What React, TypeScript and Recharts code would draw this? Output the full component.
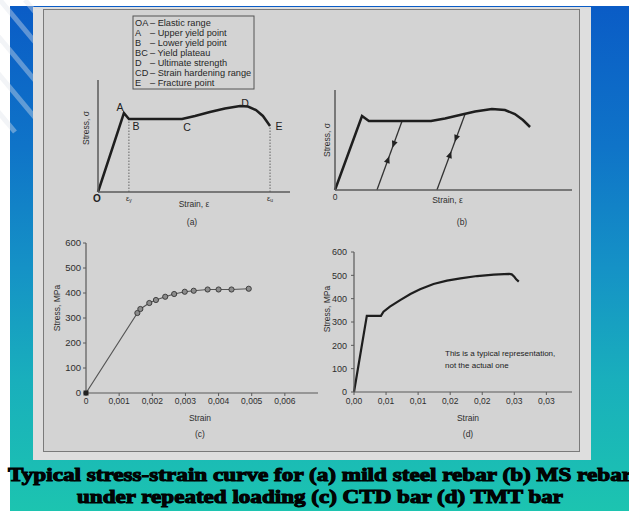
import React from 'react';
import { ComposedChart, Line, Scatter, XAxis, YAxis, ReferenceLine } from 'recharts';

// ---------- Panel (a): mild steel rebar (schematic units) ----------
const aStrain = [0, 13.5, 16.1, 43.75, 50.5, 58.3, 66.1, 74.0, 78.1, 82.3, 85.9, 89.6];
const aStress = [0, 70.5, 65.2, 65.2, 67.9, 71.4, 74.6, 76.8, 76.3, 73.2, 67.9, 58.9];
const aPointNames = ['A', 'B', 'C', 'D', 'E'];
const aPointStrain = [13.5, 16.1, 43.75, 74.0, 89.6];
const aPointStress = [70.5, 65.2, 65.2, 76.8, 58.9];
const aTickValues = [0, 16.1, 89.6];
const aTickMain = ['O', 'ε', 'ε'];
const aTickSub = ['', 'y', 'u'];
const legendCodes = ['OA', 'A', 'B', 'BC', 'D', 'CD', 'E'];
const legendTexts = ['Elastic range', 'Upper yield point', 'Lower yield point', 'Yield plateau', 'Ultimate strength', 'Strain hardening range', 'Fracture point'];

// ---------- Panel (b): MS rebar under repeated loading ----------
const bStrain = [0, 11.4, 14.3, 40.5, 46.4, 52.7, 59.1, 66.2, 71.7, 75.9, 79.3, 82.3];
const bStress = [0, 74, 69, 69, 71.5, 75, 78.5, 81, 80, 76, 70, 63];
const bUnload1Strain = [17.7, 28.3];
const bUnload1Stress = [0, 69];
const bUnload2Strain = [43.0, 54.9];
const bUnload2Stress = [0, 76];
const bArrowStrain = [24.8, 22.3, 51.1, 48.5];
const bArrowStress = [46, 30, 52, 35];
const bArrowDir = ['down', 'up', 'down', 'up'];

// ---------- Panel (c): CTD bar ----------
const cStrain = [0, 0.00155, 0.00164, 0.00191, 0.00211, 0.00239, 0.00266, 0.00298, 0.00325, 0.00367, 0.004, 0.00439, 0.00491];
const cStress = [0, 320, 336, 360, 372, 385, 396, 405, 409, 414, 414, 414, 417];
const cStrainTicks = [0, 0.001, 0.002, 0.003, 0.004, 0.005, 0.006];
const cStrainTickLabels = ['0', '0,001', '0,002', '0,003', '0,004', '0,005', '0,006'];
const stressTicks = [0, 100, 200, 300, 400, 500, 600];

// ---------- Panel (d): TMT bar ----------
const dStrain = [0, 0.002, 0.0042, 0.0046, 0.0056, 0.0072, 0.0088, 0.0103, 0.0124, 0.0145, 0.0166, 0.0192, 0.0218, 0.0242, 0.0246, 0.025, 0.0253, 0.0257];
const dStress = [0, 326, 326, 344, 366, 394, 420, 440, 463, 477, 487, 497, 503, 506, 504, 494, 483, 473];
const dStrainTicks = [0, 0.005, 0.01, 0.015, 0.02, 0.025, 0.03];
const dStrainTickLabels = ['0,00', '0,01', '0,01', '0,02', '0,02', '0,03', '0,03'];
const dNote = ['This is a typical representation,', 'not the actual one'];

const captionLines = [
  'Typical stress-strain curve for (a) mild steel rebar (b) MS rebar',
  'under repeated loading (c) CTD bar (d) TMT bar',
];

// ---------- derived tables ----------
const zip = (xs: number[], ys: number[]) => xs.map((x, i) => ({ x, y: ys[i] }));
const aData = zip(aStrain, aStress);
const aPoints = aPointNames.map((name, i) => ({ x: aPointStrain[i], y: aPointStress[i], name }));
const bData = zip(bStrain, bStress);
const bU1 = zip(bUnload1Strain, bUnload1Stress);
const bU2 = zip(bUnload2Strain, bUnload2Stress);
const bArrows = bArrowDir.map((dir, i) => ({ x: bArrowStrain[i], y: bArrowStress[i], dir }));
const cData = zip(cStrain, cStress);
const dData = zip(dStrain, dStress);

const FONT = '"Liberation Sans", Arial, sans-serif';
const TXT = '#2e2e2e';
const AX = '#5a5a5a';

const labelOffset: Record<string, [number, number]> = {
  A: [-4, -6], B: [7, 7], C: [5, 8], D: [5, -3], E: [9, 0],
};

const xTitle = (text: string, dx: number, dy: number, size = 8.5) => (props: any) => {
  const vb = props.viewBox || { x: 0, y: 0, width: 0, height: 0 };
  return (
    <text x={vb.x + vb.width / 2 + dx} y={vb.y + dy} textAnchor="middle" fontSize={size} fill={TXT} fontFamily={FONT}>
      {text}
    </text>
  );
};
const yTitle = (text: string, cx: number, dy: number, size = 8.5) => (props: any) => {
  const vb = props.viewBox || { x: 0, y: 0, width: 0, height: 0 };
  const x = vb.x + cx;
  const y = vb.y + vb.height / 2 + dy;
  return (
    <text x={x} y={y} transform={`rotate(-90 ${x} ${y})`} textAnchor="middle" dominantBaseline="central" fontSize={size} fill={TXT} fontFamily={FONT}>
      {text}
    </text>
  );
};

const ATick = (props: any) => {
  const { x, y, payload } = props;
  const i = aTickValues.indexOf(payload.value);
  if (i < 0) return null;
  if (i === 0)
    return (
      <text x={x - 1} y={y + 6} textAnchor="middle" dominantBaseline="central" fontSize={10} fontWeight="bold" fill="#222" fontFamily={FONT}>
        {aTickMain[i]}
      </text>
    );
  return (
    <text x={x} y={y + 6} textAnchor="middle" dominantBaseline="central" fontSize={7.5} fill={TXT} fontFamily={FONT}>
      <tspan>{aTickMain[i]}</tspan>
      <tspan fontSize={5} dy={2}>{aTickSub[i]}</tspan>
    </text>
  );
};

const PointLabel = (props: any) => {
  const { cx, cy, payload } = props;
  const o = labelOffset[payload.name] || [0, 0];
  return (
    <text x={cx + o[0]} y={cy + o[1]} textAnchor="middle" dominantBaseline="central" fontSize={10.5} fill="#222" fontFamily={FONT}>
      {payload.name}
    </text>
  );
};

const ArrowShape = (props: any) => {
  const { cx, cy, payload } = props;
  const pts = payload.dir === 'down' ? '-3,-3 3,-3 0,4' : '-3,3 3,3 0,-4';
  return <polygon points={pts} transform={`translate(${cx},${cy}) rotate(20)`} fill="#222" />;
};

const CDot = (props: any) => {
  const { cx, cy, index } = props;
  if (cx == null || cy == null) return null;
  if (index === 0) return <rect key={`d${index}`} x={cx - 2.5} y={cy - 2.5} width={5} height={5} fill="#222" />;
  return <circle key={`d${index}`} cx={cx} cy={cy} r={2.6} fill="#8c8c8c" stroke="#333" strokeWidth={0.9} />;
};

function ChartA() {
  return (
    <ComposedChart width={260} height={170} margin={{ top: 10, right: 20, bottom: 18, left: 18 }}>
      <XAxis type="number" dataKey="x" domain={[0, 100]} ticks={aTickValues} interval={0} tickLine={false} tickSize={0} tickMargin={0}
        tick={<ATick />} height={30} axisLine={{ stroke: AX, strokeWidth: 1.5 }} label={xTitle('Strain, ε', 0, 15)} />
      <YAxis type="number" dataKey="y" domain={[0, 100]} tick={false} tickLine={false} width={30}
        axisLine={{ stroke: AX, strokeWidth: 1.5 }} label={yTitle('Stress, σ', 18, -8)} />
      <ReferenceLine segment={[{ x: aPointStrain[1], y: 0 }, { x: aPointStrain[1], y: aPointStress[1] }]} stroke="#666" strokeDasharray="1.5 1.5" />
      <ReferenceLine segment={[{ x: aPointStrain[4], y: 0 }, { x: aPointStrain[4], y: aPointStress[4] }]} stroke="#666" strokeDasharray="1.5 1.5" />
      <Line data={aData} dataKey="y" type="linear" stroke="#1e1e1e" strokeWidth={2.5} dot={false} isAnimationActive={false} />
      <Scatter data={aPoints} dataKey="y" shape={<PointLabel />} isAnimationActive={false} />
    </ComposedChart>
  );
}

function ChartB() {
  return (
    <ComposedChart width={300} height={150} margin={{ top: 10, right: 18, bottom: 12, left: 15 }}>
      <XAxis type="number" dataKey="x" domain={[0, 100]} ticks={[0]} interval={0} tickLine={false} tickSize={0} tickMargin={4}
        tick={{ fontSize: 8.5, fill: TXT, fontFamily: FONT }} height={28} axisLine={{ stroke: AX, strokeWidth: 1.5 }}
        label={xTitle('Strain, ε', -6, 13)} />
      <YAxis type="number" dataKey="y" domain={[0, 100]} tick={false} tickLine={false} width={30}
        axisLine={{ stroke: AX, strokeWidth: 1.5 }} label={yTitle('Stress, σ', 22, 0)} />
      <Line data={bU1} dataKey="y" type="linear" stroke="#333" strokeWidth={1.3} dot={false} isAnimationActive={false} />
      <Line data={bU2} dataKey="y" type="linear" stroke="#333" strokeWidth={1.3} dot={false} isAnimationActive={false} />
      <Line data={bData} dataKey="y" type="linear" stroke="#1e1e1e" strokeWidth={2.5} dot={false} isAnimationActive={false} />
      <Scatter data={bArrows} dataKey="y" shape={<ArrowShape />} isAnimationActive={false} />
    </ComposedChart>
  );
}

function ChartC() {
  return (
    <ComposedChart width={290} height={190} margin={{ top: 8, right: 12, bottom: 2, left: 6 }}>
      <XAxis type="number" dataKey="x" domain={[0, 0.007]} ticks={cStrainTicks} interval={0} tickSize={3}
        tickFormatter={(v: number, i: number) => cStrainTickLabels[i] ?? String(v)}
        tick={{ fontSize: 8.5, fill: TXT, fontFamily: FONT }} tickLine={{ stroke: AX }} height={30}
        axisLine={{ stroke: AX, strokeWidth: 1.2 }} label={xTitle('Strain', -2, 28)} />
      <YAxis type="number" dataKey="y" domain={[0, 600]} ticks={stressTicks} interval={0} tickSize={3} width={40}
        tick={{ fontSize: 9.5, fill: TXT, fontFamily: FONT }} tickLine={{ stroke: AX }}
        axisLine={{ stroke: AX, strokeWidth: 1.2 }} label={yTitle('Stress, MPa', 11, -10)} />
      <Line data={cData} dataKey="y" type="linear" stroke="#555" strokeWidth={1.2} dot={<CDot />} isAnimationActive={false} />
    </ComposedChart>
  );
}

function ChartD() {
  return (
    <ComposedChart width={275} height={185} margin={{ top: 12, right: 13, bottom: 3, left: 4 }}>
      <XAxis type="number" dataKey="x" domain={[0, 0.034]} ticks={dStrainTicks} interval={0} tickSize={3} tickMargin={3}
        tickFormatter={(v: number, i: number) => dStrainTickLabels[i] ?? String(v)}
        tick={{ fontSize: 8.5, fill: TXT, fontFamily: FONT }} tickLine={{ stroke: AX }} height={30}
        axisLine={{ stroke: AX, strokeWidth: 1.2 }} label={xTitle('Strain', 5, 29)} />
      <YAxis type="number" dataKey="y" domain={[0, 600]} ticks={stressTicks} interval={0} tickSize={3} tickMargin={4} width={40}
        tick={{ fontSize: 9, fill: TXT, fontFamily: FONT }} tickLine={{ stroke: AX }}
        axisLine={{ stroke: AX, strokeWidth: 1.2 }} label={yTitle('Stress, MPa', 13, -13)} />
      <Line data={dData} dataKey="y" type="linear" stroke="#1e1e1e" strokeWidth={2.2} dot={false} isAnimationActive={false} />
    </ComposedChart>
  );
}

const stripeStarts = [0, -32, -63, -95, 25];

export default function App() {
  return (
    <div style={{ position: 'absolute', left: 0, top: 0, width: 629, height: 511, overflow: 'hidden', background: '#ffffff', fontFamily: FONT }}>
      <div style={{ position: 'absolute', left: 10, top: 6, width: 619, height: 505,
        background: 'linear-gradient(to bottom, #0a5cc6 0%, #0f74c8 28%, #1592c6 52%, #19afbc 74%, #1cc4b0 100%)' }} />
      <svg width={629} height={511} style={{ position: 'absolute', left: 0, top: 0 }}>
        {stripeStarts.map((x0, i) => (
          <line key={i} x1={x0} y1={0} x2={x0 + 110} y2={132} stroke="#dfe4ec" strokeOpacity={0.4} strokeWidth={5} />
        ))}
      </svg>
      <div style={{ position: 'absolute', left: 33, top: 7, width: 558, height: 453, background: '#dedede' }} />
      <div style={{ position: 'absolute', left: 43, top: 9, width: 537, height: 443, background: '#d3d3d3', border: '1.5px solid #7a7a7a', boxSizing: 'border-box' }} />
      <div style={{ position: 'absolute', left: 50, top: 70 }}><ChartA /></div>
      <div style={{ position: 'absolute', left: 290, top: 80 }}><ChartB /></div>
      <div style={{ position: 'absolute', left: 40, top: 235 }}><ChartC /></div>
      <div style={{ position: 'absolute', left: 310, top: 240 }}><ChartD /></div>
      <svg width={629} height={511} style={{ position: 'absolute', left: 0, top: 0, pointerEvents: 'none' }}>
        <rect x={133} y={16} width={121} height={73} fill="none" stroke="#555" strokeWidth={1} />
        {legendCodes.map((code, i) => (
          <g key={code + i} fontFamily={FONT} fontSize={9.2} fill="#262626">
            <text x={135} y={26 + i * 10}>{code}</text>
            <text x={150} y={26 + i * 10}>{'– ' + legendTexts[i]}</text>
          </g>
        ))}
        <text x={192} y={225} textAnchor="middle" fontSize={8.5} fill={TXT} fontFamily={FONT}>(a)</text>
        <text x={462} y={225} textAnchor="middle" fontSize={8.5} fill={TXT} fontFamily={FONT}>(b)</text>
        <text x={200} y={437} textAnchor="middle" fontSize={8.5} fill={TXT} fontFamily={FONT}>(c)</text>
        <text x={468} y={437} textAnchor="middle" fontSize={8.5} fill={TXT} fontFamily={FONT}>(d)</text>
        {dNote.map((t, i) => (
          <text key={t} x={445} y={356 + i * 12} fontSize={8} fill="#222" fontFamily={FONT}>{t}</text>
        ))}
        <text x={8} y={481} fontSize={18} fontWeight={900} fontFamily='"Liberation Serif", "DejaVu Serif", serif'
          fill="#050505" stroke="#000" strokeWidth={1} textLength={624} lengthAdjust="spacingAndGlyphs">{captionLines[0]}</text>
        <text x={77} y={503} fontSize={18} fontWeight={900} fontFamily='"Liberation Serif", "DejaVu Serif", serif'
          fill="#050505" stroke="#000" strokeWidth={1} textLength={486} lengthAdjust="spacingAndGlyphs">{captionLines[1]}</text>
      </svg>
    </div>
  );
}
